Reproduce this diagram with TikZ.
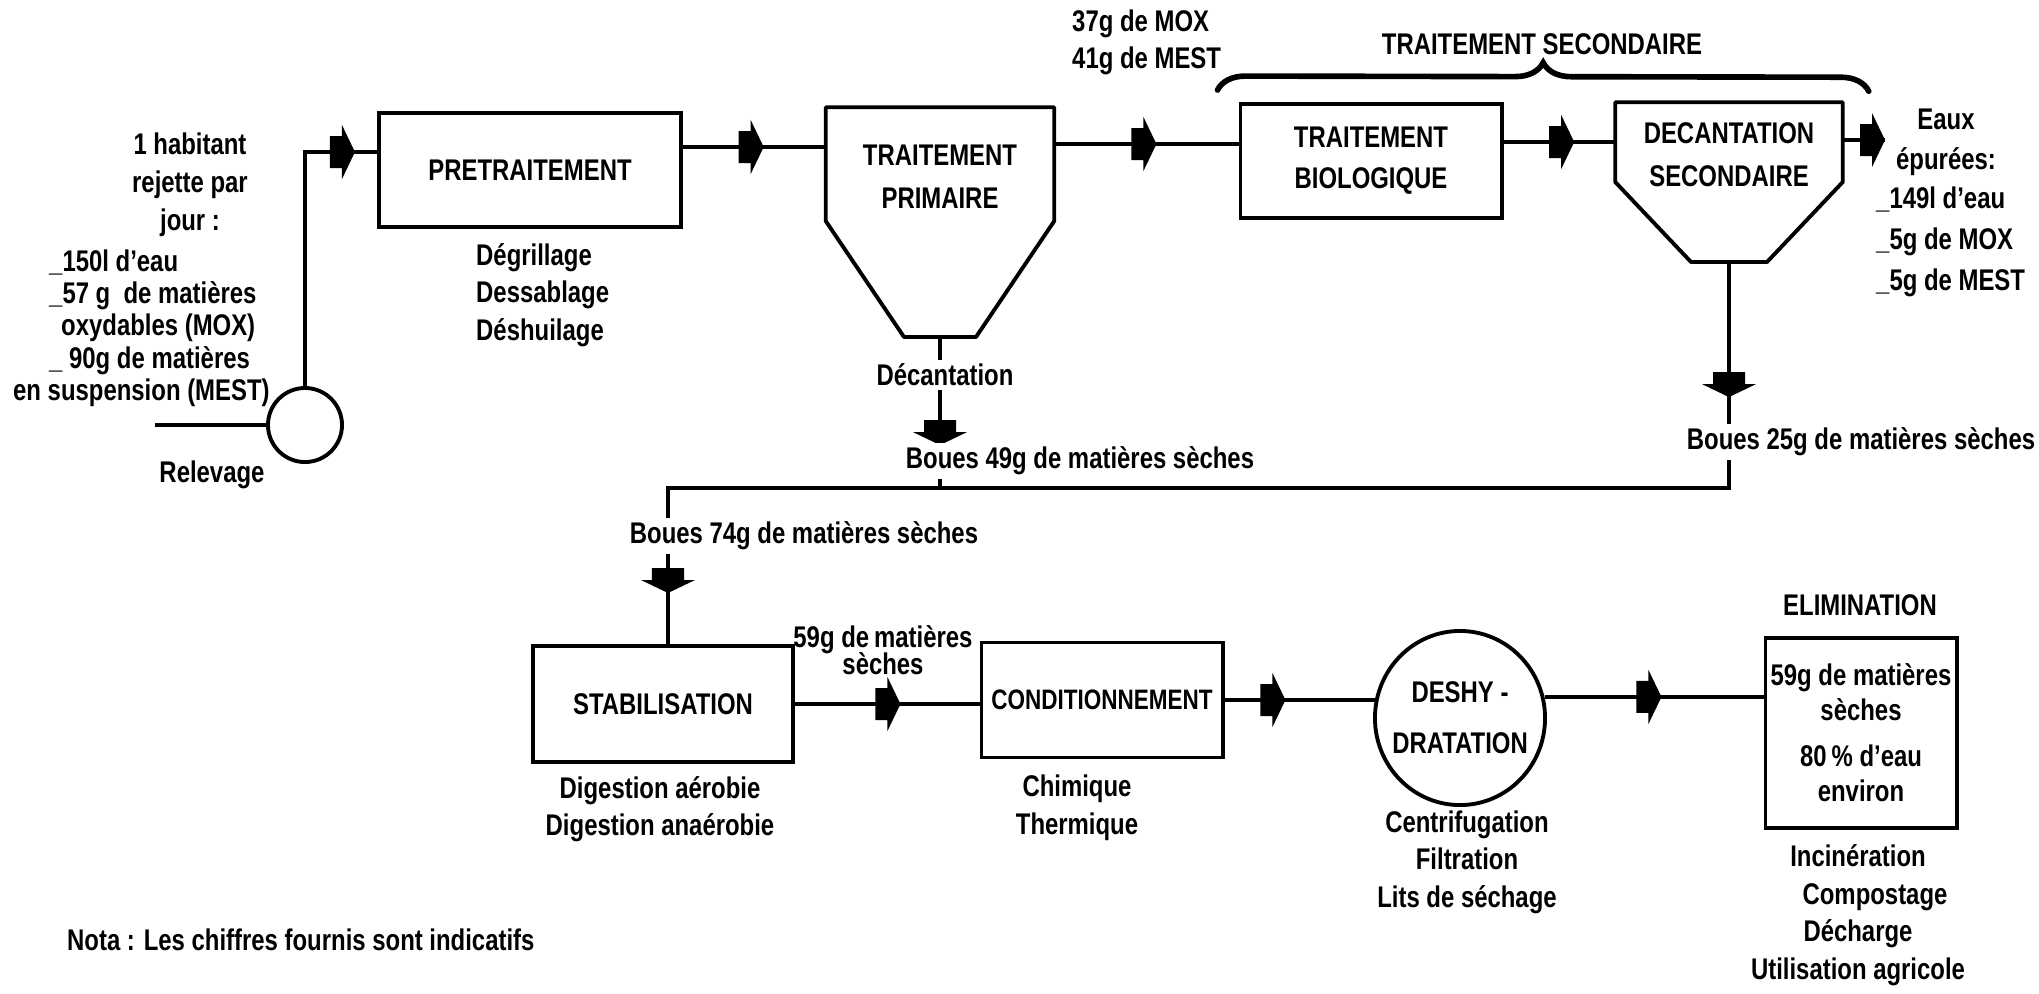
\documentclass[tikz,border=0pt]{standalone}
\usepackage{fontspec}
\setmainfont{Liberation Sans}[FakeStretch=0.8]
\usetikzlibrary{shapes.geometric, decorations.pathreplacing, decorations.markings}

% block arrow sitting on the flow lines
\newcommand{\flowtip}{\fill (-0.25cm,-0.16cm) -- (-0.13cm,-0.16cm) -- (-0.13cm,-0.27cm)
  -- (0cm,0cm) -- (-0.13cm,0.27cm) -- (-0.13cm,0.16cm) -- (-0.25cm,0.16cm) -- cycle;}

\begin{document}
\begin{tikzpicture}[x=0.01cm, y=-0.01cm,
  unit/.style={draw, line width=1.1pt, inner sep=1pt, align=center,
    font=\fontsize{8.5}{11.7}\selectfont\bfseries},
  tank/.style={inner sep=0pt, align=center,
    font=\fontsize{8.5}{12.3}\selectfont\bfseries},
  tankline/.style={line width=1.1pt, line join=round},
  txt/.style={inner sep=1pt, align=center,
    font=\fontsize{8.5}{10.7}\selectfont\bfseries},
  cut/.style={txt, fill=white},
  pipe/.style={line width=1pt},
  flow/.style={postaction={decorate, decoration={markings,
    mark=at position #1 with {\flowtip}}}}
]
\path[use as bounding box, fill=white] (0,0) rectangle (2039,993);

%% ── Water line ──
\node[draw, circle, line width=1.1pt, minimum size=0.74cm, inner sep=0pt] (relev) at (305,425) {};
\node[unit, minimum width=3.02cm, minimum height=1.14cm] (pre) at (530,170) {PRETRAITEMENT};
\node[tank, minimum width=2.27cm, minimum height=1.38cm] (prim) at (940,177) {TRAITEMENT\\PRIMAIRE};
\node[unit, minimum width=2.61cm, minimum height=1.14cm] (bio) at (1371,161) {TRAITEMENT\\BIOLOGIQUE};
\node[tank, minimum width=2.26cm, minimum height=1.04cm] (decsec) at (1729,155) {DECANTATION\\SECONDAIRE};

\draw[tankline] (prim.north west) -- (prim.north east) -- ([shift={(0,44)}]prim.east)
  -- ([shift={(36,160)}]prim.center) -- ([shift={(-36,160)}]prim.center)
  -- ([shift={(0,44)}]prim.west) -- cycle;
\coordinate (prim-out) at ([shift={(0,160)}]prim.center);

\draw[tankline] (decsec.north west) -- (decsec.north east) -- ([shift={(0,27)}]decsec.east)
  -- ([shift={(38,107)}]decsec.center) -- ([shift={(-38,107)}]decsec.center)
  -- ([shift={(0,27)}]decsec.west) -- cycle;
\coordinate (decsec-out) at ([shift={(0,107)}]decsec.center);

%% ── Sludge line ──
\node[unit, minimum width=2.60cm, minimum height=1.16cm] (stab) at (663,704) {STABILISATION};
\node[unit, minimum width=2.41cm, minimum height=1.15cm,
  font=\fontsize{8}{10}\selectfont\bfseries] (cond) at (1102,700) {CONDITIONNEMENT};
\node[draw, ellipse, line width=1.1pt, inner xsep=-0.1cm, inner ysep=0pt, minimum width=1.70cm,
  minimum height=1.74cm, align=center,
  font=\fontsize{8.5}{14.5}\selectfont\bfseries] (deshy) at (1460,718) {DESHY -\\DRATATION};
\node[unit, minimum width=1.91cm, minimum height=1.90cm,
  font=\fontsize{8.5}{10}\selectfont\bfseries] (elim) at (1861,733)
  {59g de matières\\sèches\\[3pt]80\,\% d’eau\\environ};

%% ── Flows ──
\coordinate (inlet) at (155,425);
\draw[pipe] (inlet) -- (relev.west);
\draw[pipe, flow=-0.22cm] (relev.north) |- (pre.west |- 0,152);
\draw[pipe, flow=-0.62cm] (pre.east |- 0,147) -- (prim.west |- 0,147);
\draw[pipe, flow=-0.82cm] (prim.east |- 0,144) -- (bio.west |- 0,144);
\draw[pipe, flow=-0.41cm] (bio.east |- 0,142) -- (decsec.west |- 0,142);
\coordinate (rejet) at (1885,140);
\draw[pipe, flow=1] (decsec.east |- rejet) -- (rejet);

\coordinate (collect) at (668,488);
\draw[pipe, flow=1.08cm] (prim-out) -- (prim-out |- collect);
\draw[pipe, flow=1.35cm, flow=-0.51cm] (decsec-out) |- (collect) -- (collect |- stab.north);
\draw[pipe, flow=-0.79cm] (stab.east) -- (stab.east -| cond.west);
\draw[pipe, flow=-0.90cm] (cond.east) -- (cond.east -| deshy.166);
\draw[pipe, flow=-1.02cm] (deshy.14) -- (deshy.14 -| elim.west);

%% ── Texts ──
\node[txt, font=\fontsize{8.5}{10.8}\selectfont\bfseries] (hab) at (190,185)
  {1 habitant\\rejette par\\jour :};
\node[txt, align=left, anchor=west, font=\fontsize{8.5}{9.2}\selectfont\bfseries] (habload) at (45,328)
  {\_150l d’eau\\\_57 g\ \ de matières\\\hspace*{0.12cm}oxydables (MOX)\\\_ 90g de matières\\\hspace*{-0.36cm}en suspension (MEST)};
\node[txt] (relevlbl) at (212,475) {Relevage};
\node[txt, align=left, anchor=west] (presub) at (472,295) {Dégrillage\\Dessablage\\Déshuilage};
\node[txt, align=left, anchor=west, font=\fontsize{8.5}{10.6}\selectfont\bfseries] (primload) at (1068,42)
  {37g de MOX\\41g de MEST};
\node[txt] (sectitle) at (1542,44) {TRAITEMENT SECONDAIRE};
\draw[line width=1.6pt, line cap=round, decorate, decoration={brace, amplitude=0.28cm}]
  ([shift={(-21,-12)}]bio.north west) -- ([shift={(26,-11)}]decsec.north east);
\node[txt, font=\fontsize{8.5}{11.4}\selectfont\bfseries] (eaux) at (1946,142) {Eaux\\épurées:};
\node[txt, align=left, anchor=west, font=\fontsize{8.5}{11.6}\selectfont\bfseries] (eauxload) at (1872,242)
  {\_149l d’eau\\\_5g de MOX\\\_5g de MEST};

\node[cut] (decantlbl) at (945,375) {Décantation};
\node[cut] (boues49) at (1080,461) {Boues 49g de matières sèches};
\node[cut] (boues25) at (1861,442) {Boues 25g de matières sèches};
\node[cut] (boues74) at (804,536) {Boues 74g de matières sèches};
\node[txt] (stabload) at (883,650) {59g de\,matières\\[-3pt]sèches};

\node[txt] (stabsub) at (660,809) {Digestion aérobie\\Digestion anaérobie};
\node[txt] (condsub) at (1077,808) {Chimique\\Thermique};
\node[txt] (deshysub) at (1467,862) {Centrifugation\\Filtration\\Lits de séchage};
\node[txt] (elimtitle) at (1860,605) {ELIMINATION};
\node[txt] (elimsub) at (1858,915) {Incinération\\\hspace*{0.34cm}Compostage\\Décharge\\Utilisation agricole};
\node[txt, anchor=west] (nota) at (63,940) {Nota : Les chiffres fournis sont indicatifs};

\end{tikzpicture}
\end{document}
